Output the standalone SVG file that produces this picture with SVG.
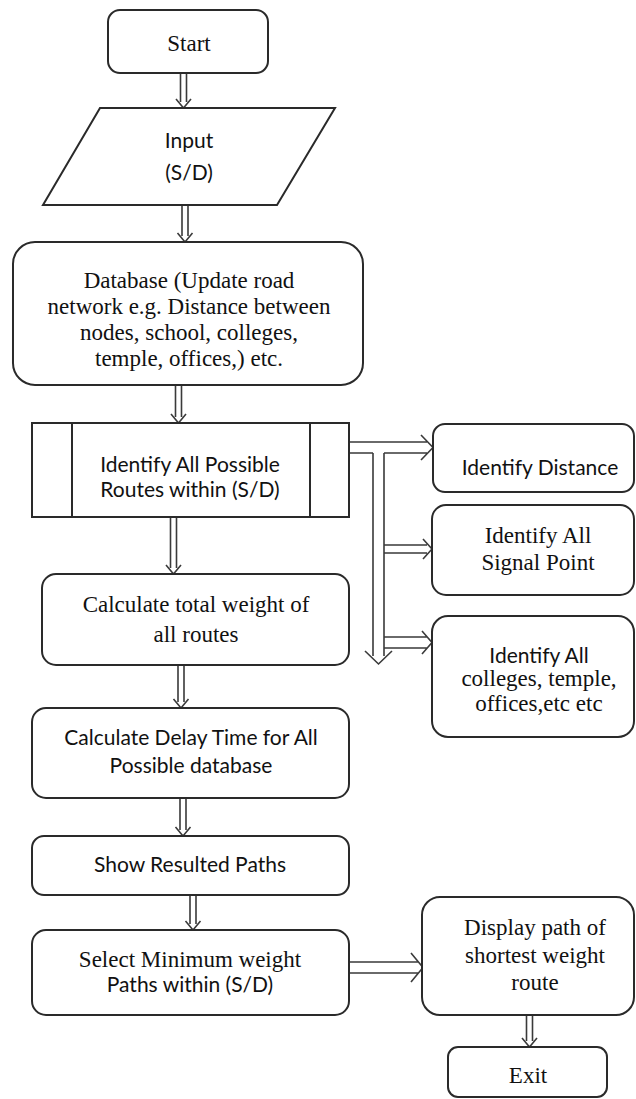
<svg xmlns="http://www.w3.org/2000/svg" width="636" height="1099" viewBox="0 0 636 1099">
<style>
.box{fill:#fff;stroke:#2a2a2a;stroke-width:2}
.ar{fill:none;stroke:#3a3a3a;stroke-width:1.6;stroke-linejoin:miter}
.s{font-family:"Liberation Serif","Times New Roman",serif;font-size:23px;fill:#111;text-anchor:middle}
.c{font-family:Lato,"Open Sans","Liberation Sans",sans-serif;font-size:21px;fill:#111;text-anchor:middle}
</style>
<rect width="636" height="1099" fill="#fff"/>
<g id="connectors">
  <path class="ar" d="M180.5,73 V102 M186.5,73 V102 M176,99 L183.5,108 L191,99"/>
  <path class="ar" d="M182,205 V236 M188,205 V236 M177.5,233 L185,242 L192.5,233"/>
  <path class="ar" d="M175.5,385 V417 M181.5,385 V417 M171,414 L178.5,423 L186,414"/>
  <path class="ar" d="M170.5,517 V568 M176.5,517 V568 M166,565 L173.5,574 L181,565"/>
  <path class="ar" d="M178,665 V702 M184,665 V702 M173.5,699 L181,708 L188.5,699"/>
  <path class="ar" d="M180,798 V830 M186,798 V830 M175.5,827 L183,836 L190.5,827"/>
  <path class="ar" d="M190,895 V924 M196,895 V924 M185.5,921 L193,930 L200.5,921"/>
  <path class="ar" d="M526.5,1015 V1041 M532.5,1015 V1041 M522,1038 L529.5,1047 L537,1038"/>
  <path class="ar" d="M349,442 H427 M349,453 H373 M384,453 H427 M421,435 L433,447.5 L421,460"/>
  <path class="ar" d="M373,453 V656 M384,453 V656 M365,651 L378.5,664 L392,651"/>
  <path class="ar" d="M384,545 H427 M384,553 H427 M423,539 L432,549 L423,559"/>
  <path class="ar" d="M384,637 H427 M384,648 H427 M422,631 L432,642.5 L422,654"/>
  <path class="ar" d="M349,962 H418 M349,973 H418 M411,953 L423,967.5 L411,982"/>
</g>
<g id="start">
  <rect class="box" x="108" y="10" width="160" height="63" rx="12"/>
  <text class="s" x="189" y="51">Start</text>
</g>
<g id="input">
  <polygon class="box" points="100,108 335,108 277,205 43,205"/>
  <text class="c" x="189" y="148">Input</text>
  <text class="c" x="189" y="180">(S/D)</text>
</g>
<g id="database">
  <rect class="box" x="13" y="242" width="350" height="143" rx="22"/>
  <text class="s" x="189" y="288">Database (Update road</text>
  <text class="s" x="189" y="314">network e.g. Distance between</text>
  <text class="s" x="189" y="340">nodes, school, colleges,</text>
  <text class="s" x="189" y="366">temple, offices,) etc.</text>
</g>
<g id="identify-routes">
  <rect class="box" x="32" y="423" width="317" height="94"/>
  <line class="box" x1="72" y1="423" x2="72" y2="517"/>
  <line class="box" x1="310" y1="423" x2="310" y2="517"/>
  <text class="c" x="190" y="472">Identify All Possible</text>
  <text class="c" x="190" y="497">Routes within (S/D)</text>
</g>
<g id="identify-distance">
  <rect class="box" x="433" y="424" width="201" height="68" rx="12"/>
  <text class="c" x="540" y="475">Identify Distance</text>
</g>
<g id="identify-signal">
  <rect class="box" x="432" y="505" width="202" height="90" rx="14"/>
  <text class="s" x="538" y="543">Identify All</text>
  <text class="s" x="538" y="570">Signal Point</text>
</g>
<g id="identify-colleges">
  <rect class="box" x="432" y="616" width="202" height="121" rx="16"/>
  <text class="c" x="539" y="663">Identify All</text>
  <text class="s" x="539" y="686">colleges, temple,</text>
  <text class="s" x="539" y="711">offices,etc etc</text>
</g>
<g id="calc-weight">
  <rect class="box" x="42" y="574" width="307" height="91" rx="14"/>
  <text class="s" x="196" y="612">Calculate total weight of</text>
  <text class="s" x="196" y="642">all routes</text>
</g>
<g id="calc-delay">
  <rect class="box" x="32" y="708" width="317" height="90" rx="14"/>
  <text class="c" x="191" y="745">Calculate Delay Time for All</text>
  <text class="c" x="191" y="773">Possible  database</text>
</g>
<g id="show-paths">
  <rect class="box" x="32" y="836" width="317" height="59" rx="12"/>
  <text class="c" x="190" y="872">Show Resulted Paths</text>
</g>
<g id="select-min">
  <rect class="box" x="32" y="930" width="317" height="85" rx="14"/>
  <text class="s" x="190" y="967">Select Minimum weight</text>
  <text class="c" x="190" y="992">Paths within  (S/D)</text>
</g>
<g id="display-path">
  <rect class="box" x="422" y="897" width="212" height="118" rx="18"/>
  <text class="s" x="535" y="935">Display path of</text>
  <text class="s" x="535" y="963">shortest weight</text>
  <text class="s" x="535" y="990">route</text>
</g>
<g id="exit">
  <rect class="box" x="448" y="1047" width="159" height="50" rx="10"/>
  <text class="s" x="528" y="1083">Exit</text>
</g>
</svg>
